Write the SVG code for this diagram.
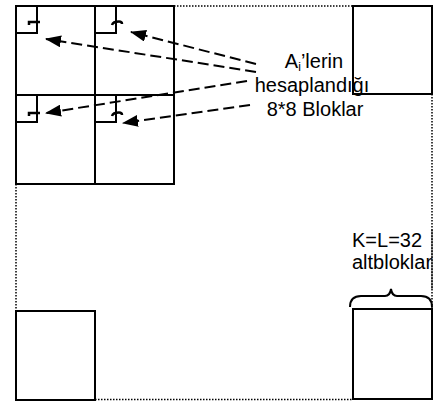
<svg xmlns="http://www.w3.org/2000/svg" width="438" height="405" viewBox="0 0 438 405">
  <style>
    .blk { fill: none; stroke: #000; stroke-width: 2; }
    .dot { fill: none; stroke: #000; stroke-width: 1.5; stroke-dasharray: 1.5 1.5; }
    .mark { fill: none; stroke: #000; stroke-width: 2.5; stroke-linecap: butt; }
    .conn { fill: none; stroke: #000; stroke-width: 2; stroke-dasharray: 11 5; }
    .lbl { font-family: "Liberation Sans", Arial, sans-serif; font-size: 20px; fill: #000; }
  </style>
  <defs>
    <marker id="ah" viewBox="0 0 16 12" refX="15" refY="6" markerWidth="16" markerHeight="12" markerUnits="userSpaceOnUse" orient="auto">
      <path d="M0,0 L16,6 L0,12 Z" fill="#000"/>
    </marker>
  </defs>
  <rect width="438" height="405" fill="#fff"/>

  <g id="frame">
    <path class="dot" d="M174,6 H353"/>
    <path class="dot" d="M432,94 V309"/>
    <path class="dot" d="M95,399.5 H353"/>
    <path class="dot" d="M16,184 V311"/>
  </g>

  <g id="blocks-8x8">
    <rect class="blk" x="16" y="6" width="158" height="178"/>
    <path class="blk" d="M95,6 V184 M16,95 H174"/>
    <rect class="blk" x="16" y="6" width="21" height="27"/>
    <rect class="blk" x="95" y="6" width="21" height="27"/>
    <rect class="blk" x="16" y="95" width="21" height="27"/>
    <rect class="blk" x="95" y="95" width="21" height="27"/>
    <path class="mark" d="M29,25 V22 H40"/>
    <path class="mark" d="M112,25 Q113,21.5 119,21.5 Q122,21.5 122,24"/>
    <path class="mark" d="M29,116 V113 H40"/>
    <path class="mark" d="M112,116 Q113,112.5 119,112.5 Q122,112.5 122,115"/>
  </g>

  <g id="block-tr">
    <rect class="blk" x="353" y="6" width="79" height="88"/>
  </g>
  <g id="block-bl">
    <rect class="blk" x="16" y="311" width="79" height="89"/>
  </g>
  <g id="block-br">
    <rect class="blk" x="353" y="309" width="79" height="90"/>
  </g>

  <g id="label-blocks">
    <text class="lbl" text-anchor="middle"><tspan x="314" y="68">A</tspan><tspan font-size="12" dy="3">i</tspan><tspan dy="-3">’lerin</tspan></text>
    <text class="lbl" text-anchor="middle" x="312" y="92">hesaplandığı</text>
    <text class="lbl" text-anchor="middle" x="315" y="116">8*8 Bloklar</text>
  </g>

  <g id="label-sub">
    <text class="lbl" x="352" y="247">K=L=32</text>
    <text class="lbl" x="352" y="269">altbloklar</text>
    <path class="dot" d="M432,230 V290"/>
    <path id="brace" fill="none" stroke="#000" stroke-width="2" d="M350,307 Q350,296 361,296 L385,296 Q390,296 391,289 Q392,296 397,296 L421,296 Q432,296 432,307"/>
  </g>

  <g id="connectors">
    <path class="conn" d="M256,72 L46,39" marker-end="url(#ah)"/>
    <path class="conn" d="M256,64 L131,32" marker-end="url(#ah)"/>
    <path class="conn" d="M247,81 L46,113" marker-end="url(#ah)"/>
    <path class="conn" d="M250,105 L123,123" marker-end="url(#ah)"/>
  </g>
</svg>
